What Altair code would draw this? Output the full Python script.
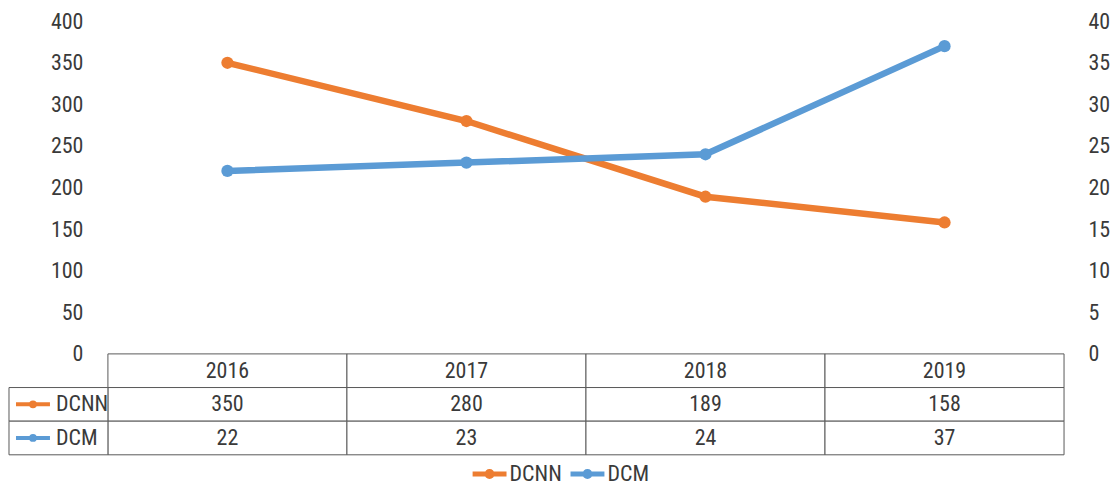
import altair as alt
import pandas as pd

# ---- data ----
years = ["2016", "2017", "2018", "2019"]
series = ["DCNN", "DCM"]
dcnn = [350, 280, 189, 158]
dcm = [22, 23, 24, 37]
colors = ["#ED7D31", "#5B9BD5"]
left_ticks = [0, 50, 100, 150, 200, 250, 300, 350, 400]
right_ticks = [0, 5, 10, 15, 20, 25, 30, 35, 40]
table_rows = ["Year", "DCNN", "DCM"]

FONT = "Roboto Condensed, Roboto, sans-serif"
TXT = "#3a3a3a"
LINE = "#595959"
FS = 22

df = pd.DataFrame({
    "year": years * 2,
    "series": [series[0]] * len(years) + [series[1]] * len(years),
    "value": dcnn + dcm,
})

# line-with-marker legend symbol (wide path, small nominal size keeps the legend row short)
legend_path = "M-3,0H3M0.45,0A0.45,0.45,0,1,1,-0.45,0A0.45,0.45,0,1,1,0.45,0"
color_scale = alt.Scale(domain=series, range=colors)
color = alt.Color(
    "series:N", scale=color_scale, sort=series,
    legend=alt.Legend(
        orient="none", legendX=371, legendY=442, title=None, direction="horizontal",
        labelFont=FONT, labelFontSize=FS, labelColor=TXT,
        symbolType=legend_path, symbolSize=128, symbolStrokeWidth=5,
        labelOffset=9, columnPadding=-2,
    ),
)

x = alt.X("year:O", scale=alt.Scale(domain=years, type="point", padding=0.5), axis=None)

def axis(orient, vals, pad):
    return alt.Axis(
        orient=orient, values=vals, domain=False, ticks=False, grid=False,
        labelFont=FONT, labelFontSize=FS, labelColor=TXT, labelPadding=pad, title=None,
    )

base = alt.Chart(df).encode(x=x, color=color)
pt = alt.OverlayMarkDef(filled=True, size=150, opacity=1)

l_dcnn = base.transform_filter(alt.datum.series == series[0]).mark_line(
    strokeWidth=6.5, point=pt
).encode(y=alt.Y("value:Q", scale=alt.Scale(domain=[0, 400], nice=False, zero=True), axis=axis("left", left_ticks, 25)))

l_dcm = base.transform_filter(alt.datum.series == series[1]).mark_line(
    strokeWidth=6.5, point=pt
).encode(y=alt.Y("value:Q", scale=alt.Scale(domain=[0, 40], nice=False, zero=True), axis=axis("right", right_ticks, 24)))

top = alt.layer(l_dcnn, l_dcm).resolve_scale(y="independent").properties(width=957, height=333)

# ---- data table ----
cells = [{"row": "Year", "year": y, "label": y} for y in years]
for s, vals in zip(series, [dcnn, dcm]):
    for y, v in zip(years, vals):
        cells.append({"row": s, "year": y, "label": str(v)})
tdf = pd.DataFrame(cells)
kdf = pd.DataFrame({"row": series, "series": series})

tx_scale = alt.Scale(domain=years, paddingInner=0, paddingOuter=0)
tx = alt.X("year:O", scale=tx_scale, axis=None)
txc = alt.X("year:O", scale=tx_scale, axis=None, bandPosition=0.5)
ty_scale = alt.Scale(domain=table_rows, paddingInner=0, paddingOuter=0)
ty = alt.Y("row:O", scale=ty_scale, axis=None)
tyc = alt.Y("row:O", scale=ty_scale, axis=None, bandPosition=0.5)
kcolor = alt.Color("series:N", scale=color_scale, legend=None)

grid = alt.Chart(tdf).mark_rect(fill="white", stroke=LINE, strokeWidth=1).encode(x=tx, y=ty)
gtext = alt.Chart(tdf).mark_text(font=FONT, fontSize=FS, color=TXT).encode(
    x=txc, y=tyc, text="label:N")

kbox = alt.Chart(kdf).mark_rect(fill="white", stroke=LINE, strokeWidth=1).encode(
    x=alt.value(-99), x2=alt.value(0), y=ty)
kline = alt.Chart(kdf).mark_rule(strokeWidth=4).encode(
    x=alt.value(-92), x2=alt.value(-58), y=tyc, color=kcolor)
kdot = alt.Chart(kdf).mark_circle(size=60, opacity=1).encode(
    x=alt.value(-75), y=tyc, color=kcolor)
ktext = alt.Chart(kdf).mark_text(font=FONT, fontSize=FS, color=TXT, align="left").encode(
    x=alt.value(-52), y=tyc, text="series:N")

table = alt.layer(grid, gtext, kbox, kline, kdot, ktext).properties(width=957, height=101)

chart = alt.vconcat(top, table, spacing=0, bounds="flush").resolve_scale(
    color="shared").resolve_legend(color="shared").properties(
    padding={"left": 0, "top": 2, "right": 0, "bottom": 0}
).configure_view(stroke=None)

chart.save("out.html", embed_options={"renderer": "svg", "actions": False})
